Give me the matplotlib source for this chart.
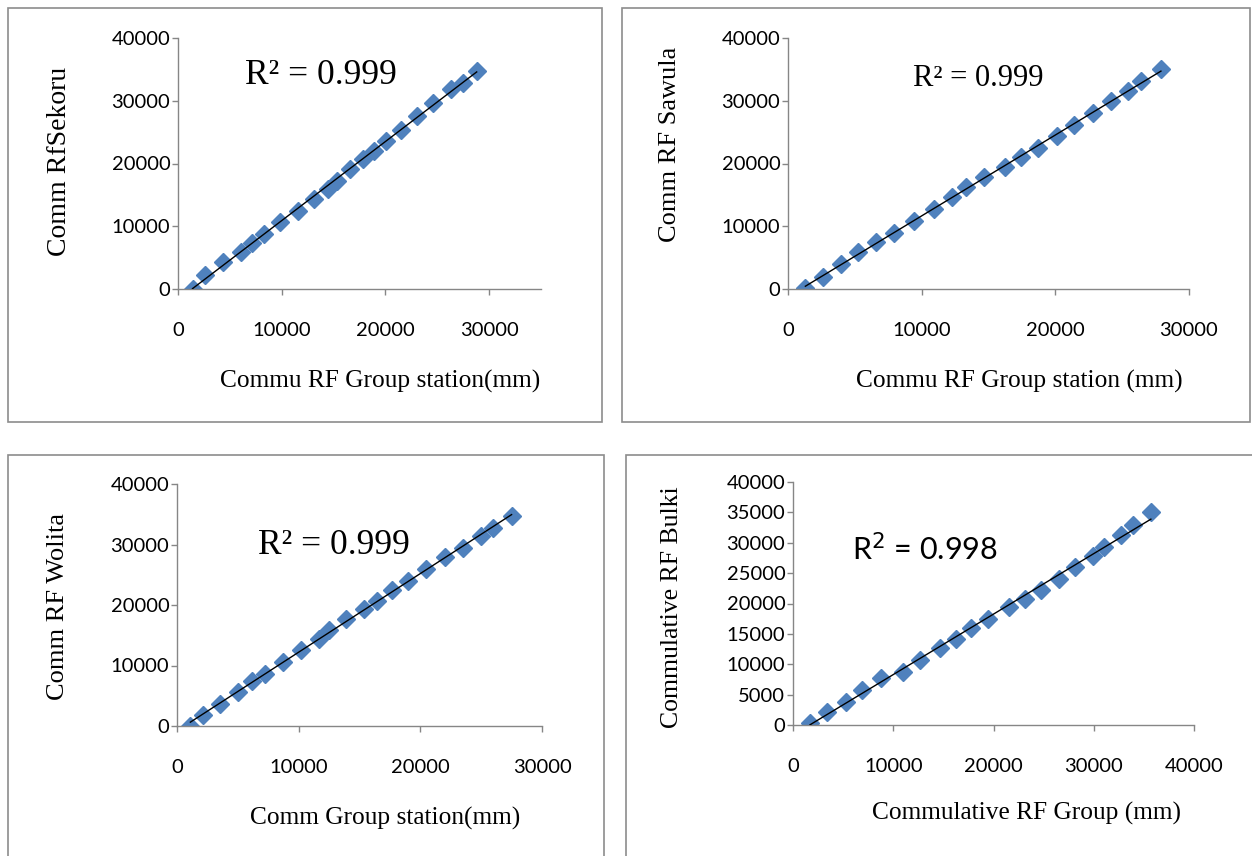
import matplotlib
matplotlib.use("Agg")
import matplotlib.pyplot as plt
import numpy as np
from matplotlib.patches import Rectangle

# panel 1: Sekoru vs group station
x_sek = [1400, 2600, 4300, 6100, 7100, 8300, 9800, 11600, 13100, 14500, 15300,
         16600, 17800, 18900, 20100, 21500, 23000, 24600, 26300, 27500, 28800]
y_sek = [0, 2200, 4300, 5900, 7300, 8800, 10600, 12500, 14300, 15900, 17200,
         19100, 20700, 22000, 23600, 25400, 27600, 29700, 31800, 32900, 34700]

# panel 2: Sawula vs group station
x_saw = [1300, 2600, 4000, 5200, 6600, 7900, 9400, 10900, 12300, 13300, 14700,
         16200, 17400, 18700, 20100, 21400, 22800, 24200, 25400, 26400, 27900]
y_saw = [200, 1900, 4000, 5900, 7500, 9000, 10900, 12800, 14600, 16200, 17800,
         19400, 21000, 22500, 24400, 26200, 28100, 29900, 31500, 33100, 35000]

# panel 3: Wolita vs group station
x_wol = [1100, 2100, 3500, 5000, 6200, 7200, 8700, 10200, 11700, 12500, 13900,
         15400, 16400, 17700, 19000, 20500, 22000, 23500, 25000, 26000, 27500]
y_wol = [0, 1800, 3700, 5600, 7500, 8600, 10600, 12500, 14400, 15800, 17700,
         19300, 20700, 22400, 24000, 25900, 27900, 29500, 31400, 32800, 34700]

# panel 4: Bulki vs group
x_bul = [1700, 3400, 5300, 6900, 8800, 11000, 12700, 14700, 16300, 17800, 19500,
         21500, 23100, 24700, 26500, 28100, 29900, 31000, 32700, 33900, 35700]
y_bul = [400, 2200, 3800, 5800, 7700, 8800, 10700, 12600, 14200, 15900, 17500,
         19500, 20800, 22200, 24100, 26000, 27900, 29300, 31200, 32900, 35100]

W, H = 1252, 856
fig = plt.figure(figsize=(W / 100, H / 100), dpi=100)

def px_rect(l, r, t, b):
    return [l / W, 1 - b / H, (r - l) / W, (b - t) / H]

def fx(x):
    return x / W

def fy(y):
    return 1 - y / H

blue = "#4F81BD"
gray = "#868686"

# outer boxes of the four charts
for (l, r, t, b) in [(8, 602, 8, 422), (622, 1250, 8, 422),
                     (8, 604, 455, 870), (626, 1262, 455, 870)]:
    fig.patches.append(Rectangle((fx(l), fy(b)), (r - l) / W, (b - t) / H,
                                 transform=fig.transFigure, fill=False,
                                 edgecolor="#8c8c8c", linewidth=1.2))

panels = [
    dict(x=x_sek, y=y_sek, rect=(178, 541, 38, 289), xmax=35000, xstep=10000, ystep=10000,
         r2="R² = 0.999", r2pos=(245, 76), r2size=25.5, r2font="Liberation Serif",
         xlabel="Commu RF Group station(mm)", xlpos=(380, 381),
         ylabel="Comm RfSekoru", ylpos=(60, 161), ylsize=20),
    dict(x=x_saw, y=y_saw, rect=(788, 1189, 38, 289), xmax=30000, xstep=10000, ystep=10000,
         r2="R² = 0.999", r2pos=(913, 78), r2size=22, r2font="Liberation Serif",
         xlabel="Commu RF Group station (mm)", xlpos=(1019, 381),
         ylabel="Comm RF Sawula", ylpos=(670, 144), ylsize=19),
    dict(x=x_wol, y=y_wol, rect=(177, 542, 484, 726), xmax=30000, xstep=10000, ystep=10000,
         r2="R² = 0.999", r2pos=(258, 546), r2size=25.5, r2font="Liberation Serif",
         xlabel="Comm Group station(mm)", xlpos=(385, 818),
         ylabel="Comm RF Wolita", ylpos=(58, 606), ylsize=19),
    dict(x=x_bul, y=y_bul, rect=(793, 1194, 482, 725), xmax=40000, xstep=10000, ystep=5000,
         r2="R$^2$ = 0.998", r2pos=(852, 549), r2size=22, r2font="Lato",
         xlabel="Commulative RF Group (mm)", xlpos=(1026, 813),
         ylabel="Commulative RF Bulki", ylpos=(672, 607), ylsize=18.5),
]

for p in panels:
    ax = fig.add_axes(px_rect(*p["rect"]))
    x = np.array(p["x"])
    y = np.array(p["y"])
    ax.plot(x, y, linestyle="none", marker="D", markersize=9, color=blue,
            markeredgecolor=blue, zorder=2)
    k, c = np.polyfit(x, y, 1)
    xx = np.array([x.min(), x.max()])
    ax.plot(xx, k * xx + c, color="black", linewidth=1, zorder=3)

    ax.set_xlim(0, p["xmax"])
    ax.set_ylim(0, 40000)
    ax.set_xticks(np.arange(0, p["xmax"] + 1, p["xstep"]))
    ax.set_yticks(np.arange(0, 40001, p["ystep"]))
    for s in ["top", "right"]:
        ax.spines[s].set_visible(False)
    for s in ["left", "bottom"]:
        ax.spines[s].set_color(gray)
        ax.spines[s].set_linewidth(1)
    ax.tick_params(direction="out", length=4, width=1, color=gray, labelsize=14.5)
    ax.tick_params(axis="x", pad=20)
    ax.tick_params(axis="y", pad=1.5)
    for lab in ax.get_xticklabels() + ax.get_yticklabels():
        lab.set_fontfamily("Lato")
        lab.set_color("black")
    ax.patch.set_alpha(0)

    fig.text(fx(p["r2pos"][0]), fy(p["r2pos"][1]), p["r2"], fontsize=p["r2size"],
             family=p["r2font"], ha="left", va="center", color="black")
    fig.text(fx(p["xlpos"][0]), fy(p["xlpos"][1]), p["xlabel"], fontsize=18.3,
             family="Liberation Serif", ha="center", va="center", color="black")
    fig.text(fx(p["ylpos"][0]), fy(p["ylpos"][1]), p["ylabel"], fontsize=p["ylsize"],
             family="Liberation Serif", ha="center", va="center", rotation=90,
             color="black")

fig.savefig("out.png", dpi=100, facecolor="white")
